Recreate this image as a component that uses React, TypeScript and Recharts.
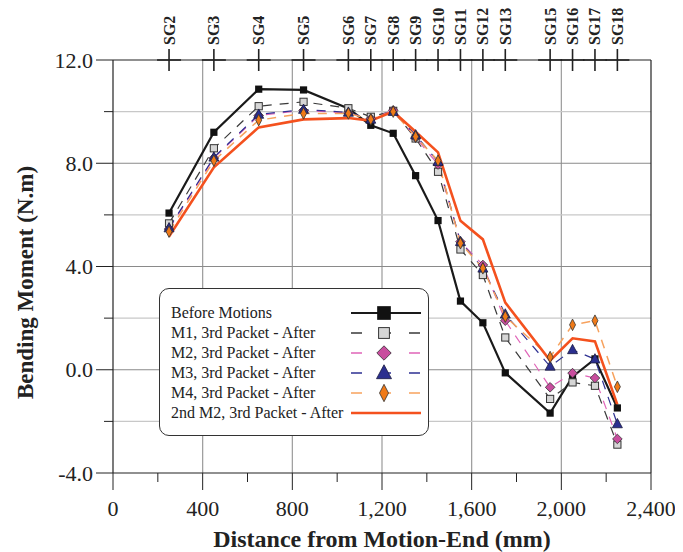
import {
  Legend,
  Line,
  LineChart,
  ReferenceLine,
  XAxis,
  YAxis,
} from "recharts";

const FONT = "'Liberation Serif', 'Times New Roman', serif";

// sensor locations along the pipe (mm) and their gauge names
const positions = [250, 450, 650, 850, 1050, 1150, 1250, 1350, 1450, 1550, 1650, 1750, 1950, 2050, 2150, 2250];
const sensors = ["SG2", "SG3", "SG4", "SG5", "SG6", "SG7", "SG8", "SG9", "SG10", "SG11", "SG12", "SG13", "SG15", "SG16", "SG17", "SG18"];

// bending moment (N.m) per sensor
const beforeMotions = [6.07, 9.2, 10.87, 10.84, 10.12, 9.47, 9.16, 7.52, 5.78, 2.66, 1.82, -0.12, -1.68, -0.27, 0.42, -1.48];
const m1After = [5.67, 8.58, 10.21, 10.38, 10.13, 9.8, 10.03, 8.96, 7.67, 4.66, 3.67, 1.25, -1.13, -0.49, -0.62, -2.9];
const m2After = [5.45, 8.2, 9.85, 10.05, 9.95, 9.72, 10.05, 9.0, 7.95, 4.96, 4.06, 1.9, -0.68, -0.13, -0.32, -2.68];
const m3After = [5.49, 8.23, 9.89, 10.08, 9.97, 9.7, 10.0, 9.09, 8.06, 4.96, 3.93, 2.15, 0.13, 0.77, 0.41, -2.1];
const m4After = [5.35, 8.1, 9.67, 9.93, 9.93, 9.7, 10.0, 9.03, 8.1, 4.9, 3.93, 2.06, 0.49, 1.74, 1.9, -0.66];
const m2SecondAfter = [5.16, 7.84, 9.39, 9.7, 9.75, 9.65, 10.0, 9.22, 8.42, 5.77, 5.05, 2.6, 0.36, 1.22, 1.1, -1.35];

const xTicks = [0, 200, 400, 600, 800, 1000, 1200, 1400, 1600, 1800, 2000, 2200, 2400];
const xGrid = [400, 800, 1200, 1600, 2000];
const yTicks = [-4, -2, 0, 2, 4, 6, 8, 10, 12];
const yMajorGrid = [0, 4, 8];
const yMinorGrid = [-2, 2, 6, 10];

const series = [
  { key: "before", name: "Before Motions", color: "#1a1a1a", width: 2.2, dash: undefined, marker: "bigSquare" },
  { key: "m1", name: "M1, 3rd Packet - After", color: "#3a3a3a", width: 1.2, dash: "9 8", marker: "square" },
  { key: "m2", name: "M2, 3rd Packet - After", color: "#e064b8", width: 1.2, dash: "9 8", marker: "diamond" },
  { key: "m3", name: "M3, 3rd Packet - After", color: "#2e3192", width: 1.2, dash: "9 8", marker: "triangle" },
  { key: "m4", name: "M4, 3rd Packet - After", color: "#f7a25e", width: 1.5, dash: "9 8", marker: "thinDiamond" },
  { key: "m2b", name: "2nd M2, 3rd Packet - After", color: "#f4511e", width: 2.6, dash: undefined, marker: "none" },
];

const data = positions.map((x, i) => ({
  x,
  before: beforeMotions[i],
  m1: m1After[i],
  m2: m2After[i],
  m3: m3After[i],
  m4: m4After[i],
  m2b: m2SecondAfter[i],
}));

function Marker({ kind, cx, cy, scale = 1 }: { kind: string; cx: number; cy: number; scale?: number }) {
  const s = scale;
  if (kind === "bigSquare") return <rect x={cx - 3.6 * s} y={cy - 3.6 * s} width={7.2 * s} height={7.2 * s} fill="#111" />;
  if (kind === "square")
    return <rect x={cx - 3.6 * s} y={cy - 3.6 * s} width={7.2 * s} height={7.2 * s} fill="#d6d6d6" stroke="#333" strokeWidth={1} />;
  if (kind === "diamond")
    return (
      <polygon
        points={`${cx},${cy - 4.8 * s} ${cx + 4.8 * s},${cy} ${cx},${cy + 4.8 * s} ${cx - 4.8 * s},${cy}`}
        fill="#c84d9e"
        stroke="#333"
        strokeWidth={0.8}
      />
    );
  if (kind === "triangle")
    return (
      <polygon
        points={`${cx},${cy - 5.5 * s} ${cx + 5 * s},${cy + 3.8 * s} ${cx - 5 * s},${cy + 3.8 * s}`}
        fill="#2b2f8f"
        stroke="#1a1a40"
        strokeWidth={0.8}
      />
    );
  if (kind === "thinDiamond")
    return (
      <polygon
        points={`${cx},${cy - 5.8 * s} ${cx + 3 * s},${cy} ${cx},${cy + 5.8 * s} ${cx - 3 * s},${cy}`}
        fill="#f07a18"
        stroke="#333"
        strokeWidth={0.8}
      />
    );
  return null;
}

function BottomTick(props: any) {
  const { x, y, payload } = props;
  const major = payload.value % 400 === 0;
  return (
    <g>
      <line x1={x} x2={x} y1={y} y2={y + (major ? 17 : 9)} stroke="#222" strokeWidth={1} />
      {major && (
        <text x={x} y={y + 43} textAnchor="middle" fontSize={22} fontFamily={FONT} fill="#222">
          {payload.value.toLocaleString("en-US")}
        </text>
      )}
    </g>
  );
}

function LeftTick(props: any) {
  const { x, y, payload } = props;
  const major = payload.value % 4 === 0;
  return (
    <g>
      <line x1={x - (major ? 17 : 9)} x2={x} y1={y} y2={y} stroke="#222" strokeWidth={1} />
      {major && (
        <text x={x - 20} y={y + 7.5} textAnchor="end" fontSize={22} fontFamily={FONT} fill="#222">
          {payload.value.toFixed(1)}
        </text>
      )}
    </g>
  );
}

function TopTick(props: any) {
  const { x, y, payload } = props;
  const name = sensors[positions.indexOf(payload.value)];
  return (
    <g>
      <line x1={x - 12} x2={x + 12} y1={y} y2={y} stroke="#222" strokeWidth={1.6} />
      <line x1={x} x2={x} y1={y - 11} y2={y + 11} stroke="#222" strokeWidth={1.6} />
      <text
        transform={`translate(${x + 5.5},${y - 15}) rotate(-90)`}
        textAnchor="start"
        fontSize={16}
        fontWeight="bold"
        fontFamily={FONT}
        fill="#222"
      >
        {name}
      </text>
    </g>
  );
}

function LegendBox() {
  return (
    <div
      style={{
        width: 270,
        height: 148,
        boxSizing: "border-box",
        border: "1.5px solid #333",
        borderRadius: 10,
        background: "#fff",
        padding: "14px 0 0 11px",
        fontFamily: FONT,
        fontSize: 16,
        color: "#222",
      }}
    >
      {series.map((s) => (
        <div key={s.key} style={{ display: "flex", alignItems: "center", height: 20 }}>
          <span style={{ width: 180, whiteSpace: "nowrap" }}>{s.name}</span>
          <svg width={70} height={20}>
            <line
              x1={0}
              x2={70}
              y1={10}
              y2={10}
              stroke={s.color}
              strokeWidth={s.dash ? 1.5 : s.width}
              strokeDasharray={s.dash ? "11 18" : undefined}
            />
            <Marker kind={s.marker} cx={33} cy={10} scale={s.marker === "bigSquare" ? 1.9 : 1.5} />
          </svg>
        </div>
      ))}
    </div>
  );
}

export default function App() {
  return (
    <LineChart width={675} height={544} data={data} margin={{ top: 0, right: 0, bottom: 0, left: 0 }}>
      {xGrid.map((v) => (
        <ReferenceLine key={`gx${v}`} x={v} xAxisId="bottom" yAxisId="left" stroke="#9a9a9a" strokeWidth={1.2} />
      ))}
      {yMinorGrid.map((v) => (
        <ReferenceLine key={`gy${v}`} y={v} xAxisId="bottom" yAxisId="left" stroke="#c8c8c8" strokeWidth={1.2} />
      ))}
      {yMajorGrid.map((v) => (
        <ReferenceLine key={`gY${v}`} y={v} xAxisId="bottom" yAxisId="left" stroke="#8a8a8a" strokeWidth={1.2} />
      ))}
      <XAxis
        xAxisId="bottom"
        dataKey="x"
        type="number"
        domain={[0, 2400]}
        ticks={xTicks}
        interval={0}
        height={79}
        tickSize={0}
        tickMargin={0}
        tickLine={false}
        tick={<BottomTick />}
        axisLine={{ stroke: "#222", strokeWidth: 1.2 }}
        label={{
          value: "Distance from Motion-End (mm)",
          position: "insideBottom",
          offset: 5,
          style: { fontFamily: FONT, fontSize: 24, fontWeight: "bold", fill: "#222" },
        }}
      />
      <XAxis
        xAxisId="top"
        orientation="top"
        dataKey="x"
        type="number"
        domain={[0, 2400]}
        ticks={positions}
        interval={0}
        height={52}
        tickSize={0}
        tickMargin={0}
        tickLine={false}
        tick={<TopTick />}
        axisLine={{ stroke: "#222", strokeWidth: 1.2 }}
      />
      <YAxis
        yAxisId="left"
        type="number"
        domain={[-4, 12]}
        ticks={yTicks}
        interval={0}
        width={105}
        tickSize={0}
        tickMargin={0}
        tickLine={false}
        tick={<LeftTick />}
        axisLine={{ stroke: "#222", strokeWidth: 1.2 }}
        label={{
          value: "Bending Moment (N.m)",
          angle: -90,
          position: "insideLeft",
          offset: 17,
          dy: 16,
          style: { fontFamily: FONT, fontSize: 23, fontWeight: "bold", fill: "#222", textAnchor: "middle" },
        }}
      />
      <YAxis
        yAxisId="right"
        orientation="right"
        domain={[-4, 12]}
        width={32}
        tick={false}
        tickLine={false}
        axisLine={{ stroke: "#222", strokeWidth: 1.2 }}
      />
      {series.map((s) => (
        <Line
          key={s.key}
          xAxisId="bottom"
          yAxisId="left"
          type="linear"
          dataKey={s.key}
          name={s.name}
          stroke={s.color}
          strokeWidth={s.width}
          strokeDasharray={s.dash}
          isAnimationActive={false}
          dot={(p: any) => <Marker key={`${s.key}-${p.index}`} kind={s.marker} cx={p.cx} cy={p.cy} />}
          activeDot={false}
        />
      ))}
      <Legend
        layout="horizontal"
        verticalAlign="middle"
        align="center"
        content={() => <LegendBox />}
        wrapperStyle={{ left: 151, top: 280, width: 270, height: 148 }}
      />
    </LineChart>
  );
}
